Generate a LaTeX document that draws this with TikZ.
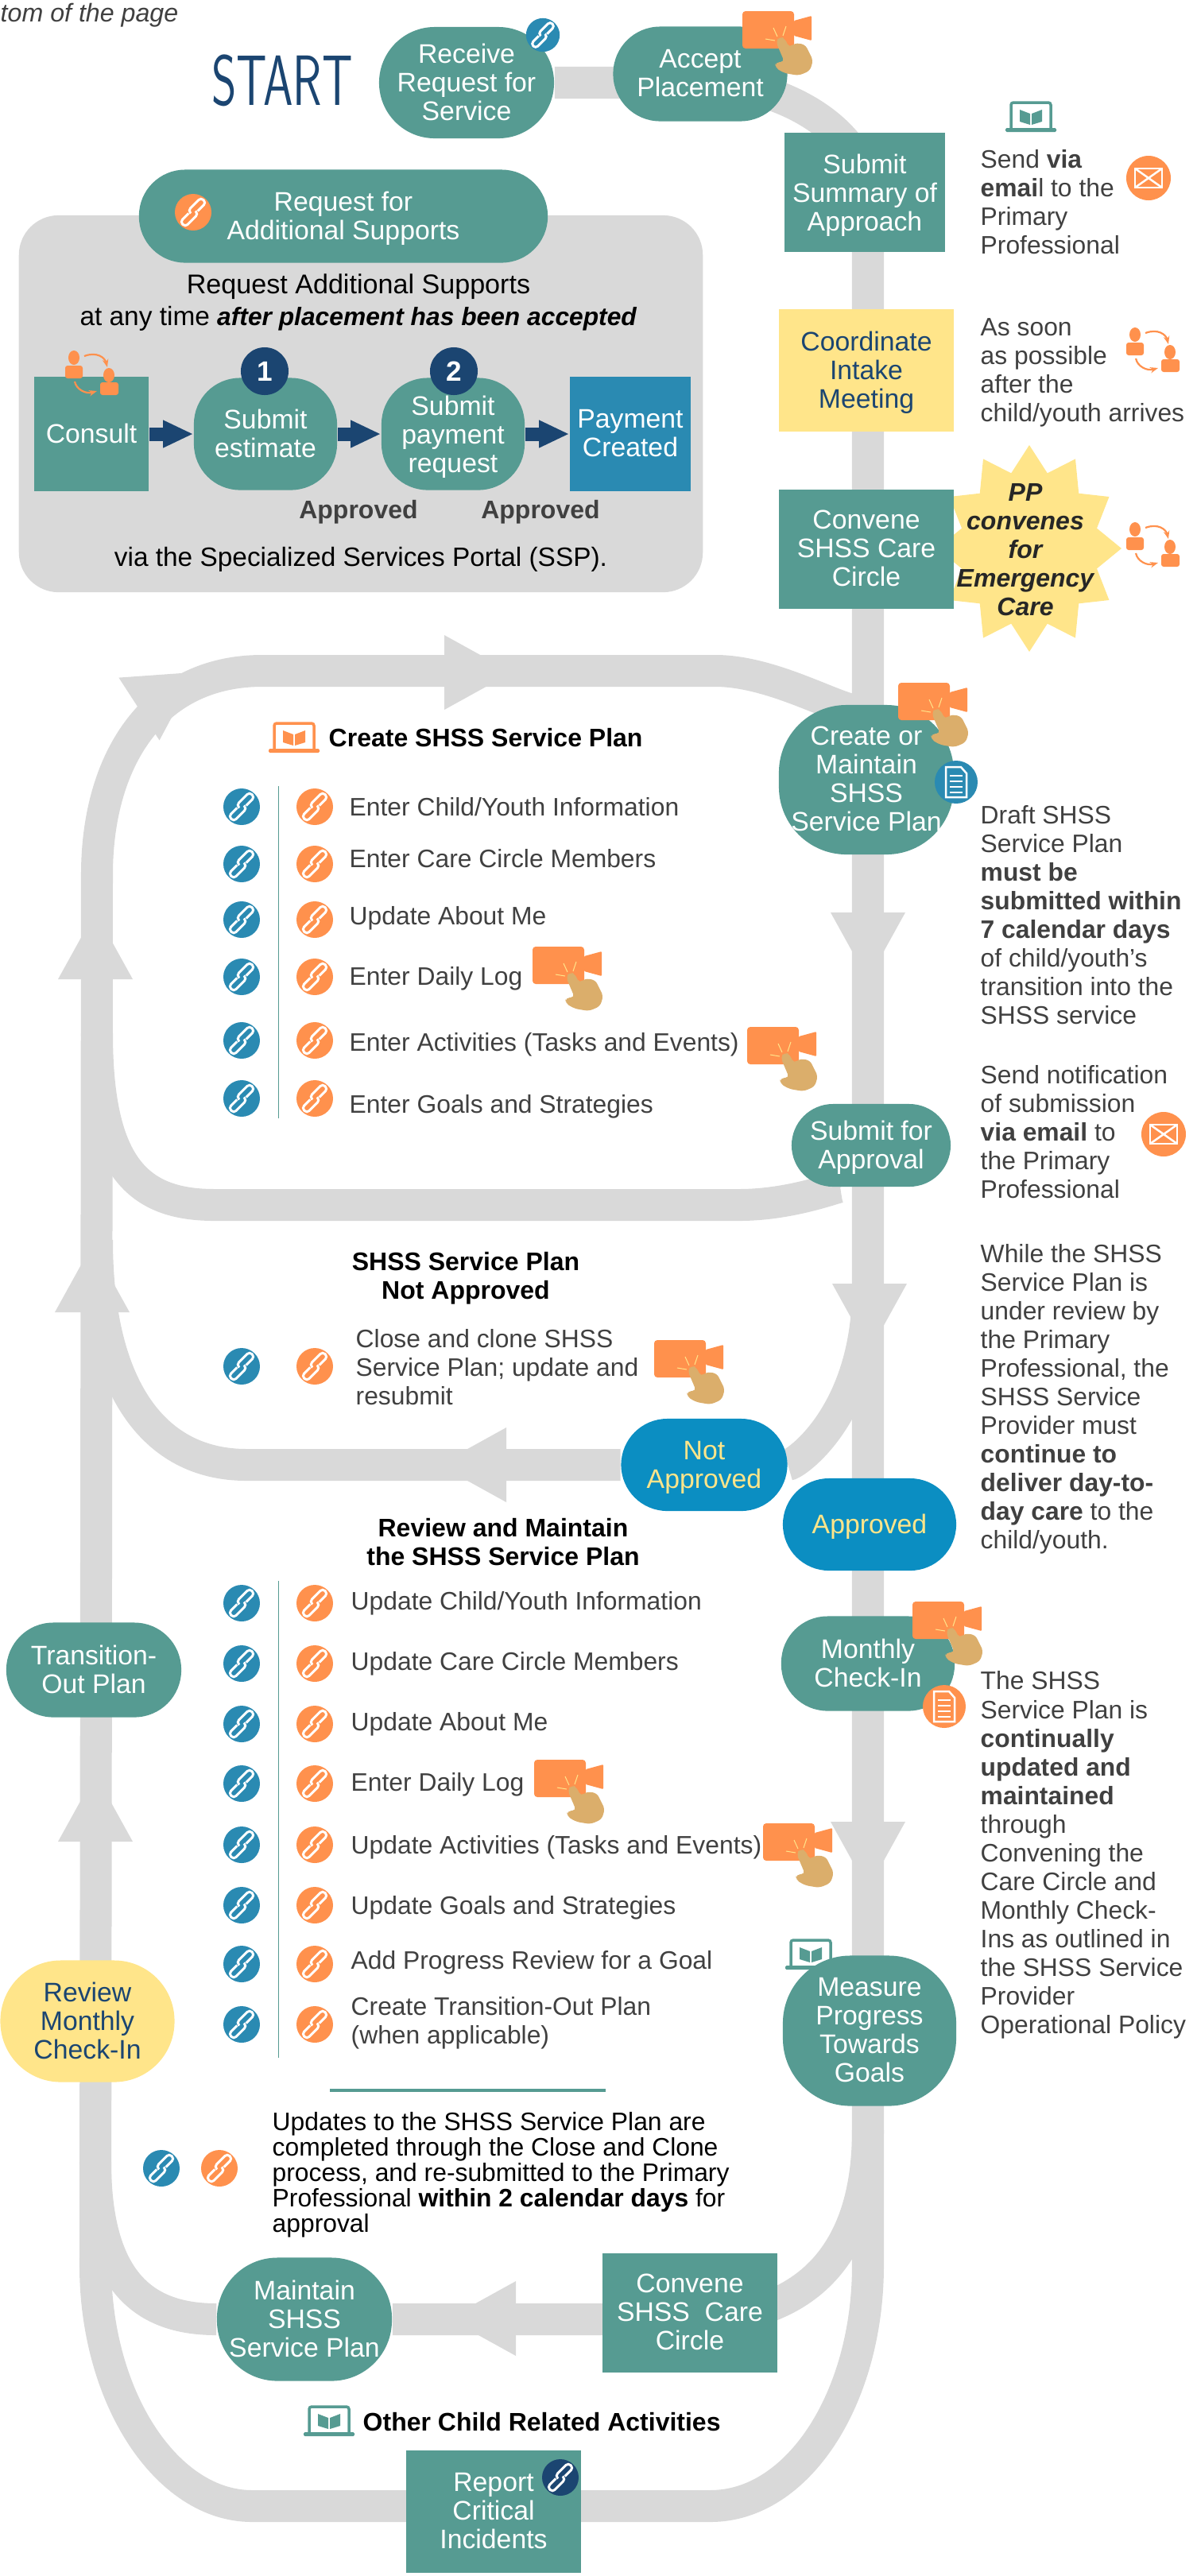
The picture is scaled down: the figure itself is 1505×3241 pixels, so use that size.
\documentclass[tikz,border=0pt]{standalone}
\usepackage{fontspec}
\setmainfont{Liberation Sans}
\usetikzlibrary{arrows.meta,backgrounds}

\definecolor{stagegreen}{HTML}{569B92}
\definecolor{trackgray}{HTML}{D9D9D9}
\definecolor{iconorange}{HTML}{FF914D}
\definecolor{linkblue}{HTML}{2A8AB2}
\definecolor{navyblue}{HTML}{1B4571}
\definecolor{statusblue}{HTML}{0B8EC2}
\definecolor{hintyellow}{HTML}{FFE58A}
\definecolor{handtan}{HTML}{DBAE6B}
\definecolor{bodytext}{HTML}{404040}

\tikzset{
    pics/linkicon/.style={code={
        \fill[#1] (0,0) circle (23);
        \draw[white, line width=0.3mm, rotate=45, rounded corners=0.4mm] (5,3) -- (20,3) -- (20,-6) -- (-3,-6) -- (-3,-1);
        \draw[white, line width=0.3mm, rotate=45, rounded corners=0.4mm] (-5,-3) -- (-20,-3) -- (-20,6) -- (3,6) -- (3,1);
    }},
    pics/mailicon/.style={code={
        \fill[iconorange] (0,0) circle (28);
        \draw[white, line width=0.25mm] (-17,-12) rectangle (17,12);
        \draw[white, line width=0.25mm] (-17,-12) -- (17,12) (17,-12) -- (-17,12);
    }},
    pics/docicon/.style={code={
        \fill[#1] (0,0) circle (27);
        \draw[white, line width=0.25mm] (-13,-19) -- (6,-19) -- (13,-11) -- (13,19) -- (-13,19) -- cycle;
        \foreach \l in {-8,-1,6,13} {
            \draw[white, line width=0.2mm] (-8,\l) -- (8,\l);
        }
    }},
    pics/laptopicon/.style={code={
        \draw[#1, line width=0.35mm, rounded corners=0.3mm] (7,36) -- (7,2) -- (57,2) -- (57,36);
        \fill[#1, rounded corners=0.15mm] (0,34) rectangle (64,39);
        \fill[#1] (18,11) -- (31,16) -- (31,30) -- (18,26) -- cycle;
        \fill[#1] (33,16) -- (46,11) -- (46,26) -- (33,30) -- cycle;
    }},
    pics/peopleicon/.style={code={
        \fill[iconorange] (11,8) ellipse (7 and 9);
        \fill[iconorange, rounded corners=0.3mm] (0,18) rectangle (22,34);
        \fill[iconorange] (55,30) ellipse (7 and 9);
        \fill[iconorange, rounded corners=0.3mm] (44,39) rectangle (67,55);
        \draw[iconorange, line width=0.22mm, -{Stealth[length=1mm]}] (24,6) .. controls (40,0) and (50,8) .. (53,20);
        \draw[iconorange, line width=0.22mm, -{Stealth[length=1mm]}] (12,38) .. controls (14,48) and (26,54) .. (40,50);
    }},
    pics/videoicon/.style={code={
        \fill[iconorange, rounded corners=0.4mm] (0,0) rectangle (65,47);
        \fill[iconorange, rounded corners=0.1mm] (65,12) -- (87,6) -- (87,37) -- (65,31) -- cycle;
        \draw[hintyellow, line width=0.1mm] (39,21) -- (44,32) (55,19) -- (51,31) (29,35) -- (41,37);
        \fill[handtan, rounded corners=0.5mm] (47,32) -- (42,38) -- (53,64) -- (42,64) -- (41,71)
            -- (53,78) -- (71,81) -- (85,75) -- (89,62) -- (79,42) -- (66,40) -- (59,46) -- (53,34) -- cycle;
    }}
}

\begin{document}
\begin{tikzpicture}[
    x=0.01cm, y=-0.01cm,
    box size/.style 2 args={minimum width=#1*0.1mm, minimum height=#2*0.1mm},
    stage/.style={rectangle, fill=stagegreen, text=white, align=center, inner sep=0pt, text depth=0.6pt,
        rounded corners=#1*0.1mm, font=\fontsize{9.6}{10.24}\selectfont},
    stage/.default=0,
    hint stage/.style={stage=#1, fill=hintyellow, text=navyblue},
    hint stage/.default=0,
    status stage/.style={stage=58, fill=statusblue, text=hintyellow},
    note/.style={anchor=west, align=left, inner sep=0pt, text=bodytext, font=\fontsize{9.05}{10.25}\selectfont},
    list item/.style={note, text height=7.7pt, text depth=2pt},
    heading/.style={align=center, inner sep=0pt, text=black, font=\fontsize{9.1}{10.25}\selectfont\bfseries},
    track/.style={draw=trackgray, line width=4mm},
    track head/.style={fill=trackgray},
    step number/.style={circle, fill=navyblue, text=white, inner sep=0pt, minimum size=6mm, font=\fontsize{10}{10}\selectfont\bfseries},
    flow arrow/.style={navyblue, line width=1.7mm, -{Triangle[length=3.8mm,width=3.2mm]}}
]
\useasboundingbox (0,0) rectangle (1505,3241);

% Page remainder and start
\node[note, anchor=west, font=\fontsize{9.15}{10}\selectfont\itshape] (pagenote) at (0,19) {tom of the page};
\node[inner sep=0pt, text=navyblue, xscale=0.67, font=\fontsize{25.5}{26}\selectfont\sffamily] (startlabel) at (355,101) {START};

% Additional supports panel
\node[fill=trackgray, rounded corners=5mm, box size={860}{474}] (panel) at (454,508) {};
\node[stage=58, box size={514}{117}] (request) at (432,272) {Request for\\Additional Supports};
\node[heading, font=\fontsize{9.5}{10.4}\selectfont] (anytime) at (451,381) {\mdseries\fontsize{9.7}{10.4}\selectfont Request Additional Supports\\[1pt]
    \mdseries at any time {\fontsize{9.03}{10.4}\selectfont\textbf{\textit{after placement has been accepted}}}};
\node[stage, box size={144}{144}] (consult) at (115,546) {Consult};
\node[stage=58, box size={180}{141}] (estimate) at (334,546) {Submit\\estimate};
\node[stage=58, text depth=-1.4pt, box size={180}{141}] (payment) at (570,546) {Submit\\payment\\request};
\node[stage, fill=linkblue, box size={152}{144}] (created) at (793,546) {Payment\\Created};
\node[step number] (numberone) at (333,467) {1};
\node[step number] (numbertwo) at (571,467) {2};
\draw[flow arrow] (consult) -- (estimate);
\draw[flow arrow] (estimate) -- (payment);
\draw[flow arrow] (payment) -- (created);
\node[heading, text=bodytext] (approvedone) at (451,644) {Approved};
\node[heading, text=bodytext] (approvedtwo) at (680,644) {Approved};
\node[heading, font=\fontsize{9.5}{10}\selectfont\mdseries] (portal) at (454,704) {via the Specialized Services Portal (SSP).};

% Star behind the convene box
\fill[hintyellow] plot[variable=\k, samples at={0,...,23}]
    ({1295+(116-28*mod(\k,2))*sin(15*\k)}, {690-(130-32*mod(\k,2))*cos(15*\k)}) -- cycle;

% Right column stages
\node[stage=70, box size={220}{140}] (receive) at (587,104) {Receive\\Request for\\Service};
\node[stage=59, box size={219}{119}] (accept) at (881,93) {Accept\\Placement};
\node[stage, text depth=-0.8pt, box size={201}{150}] (summary) at (1088,242) {Submit\\Summary of\\Approach};
\node[hint stage, box size={220}{153}] (intake) at (1090,466) {Coordinate\\Intake\\Meeting};
\node[stage, box size={220}{150}] (convene) at (1090,691) {Convene\\SHSS Care\\Circle};
\node[inner sep=0pt, align=center, text=black!85, font=\fontsize{9.1}{10.24}\selectfont\bfseries\itshape] (emergency) at (1290,692) {PP\\convenes\\for\\Emergency\\Care};
\node[stage=85, box size={220}{188}] (create) at (1090,981) {Create or\\Maintain\\SHSS\\Service Plan};
\node[stage=52, box size={200}{104}] (approval) at (1096,1441) {Submit for\\Approval};
\node[status stage, text depth=-1.4pt, box size={209}{116}] (notapproved) at (886,1843) {Not\\Approved};
\node[status stage, box size={218}{116}] (approved) at (1094,1918) {Approved};
\node[stage=58, box size={218}{119}] (monthly) at (1092,2093) {Monthly\\Check-In};
\node[stage=85, box size={218}{189}] (measure) at (1094,2555) {Measure\\Progress\\Towards\\Goals};

% Left side and bottom stages
\node[stage=59, box size={220}{119}] (transition) at (118,2101) {Transition-\\Out Plan};
\node[hint stage=76, box size={219}{153}] (reviewcheck) at (110,2543) {Review\\Monthly\\Check-In};
\node[stage=76, box size={220}{155}] (maintain) at (383,2918) {Maintain\\SHSS\\Service Plan};
\node[stage, box size={220}{150}] (conveneagain) at (868,2910) {Convene\\SHSS\ \ Care\\Circle};
\node[stage, box size={220}{153}] (report) at (621,3160) {Report\\Critical\\Incidents};

% Tracks behind everything
\coordinate (railtop) at (1092,250);
\coordinate (railbottom) at (1092,2850);
\coordinate (leftbottom) at (120,2850);
\coordinate (lefttop) at (122,1100);
\begin{scope}[on background layer]
    \draw[track] (receive) -- (accept |- receive) .. controls (990,104) and (1092,170) .. (railtop);
    \draw[track] (railtop) -- (railbottom) .. controls (1092,3017) and (1004,3153) .. (894,3153)
        -- (317,3153) .. controls (210,3153) and (120,3017) .. (leftbottom) -- (lefttop);
    \draw[track] (lefttop) .. controls (122,960) and (190,844) .. (330,844) -- (900,844)
        .. controls (990,844) and (1092,920) .. (create);
    \draw[track] (approval) .. controls (1060,1490) and (1000,1516) .. (930,1516) -- (270,1516)
        .. controls (175,1516) and (122,1470) .. (122,1300);
    \draw[track] (notapproved) .. controls (1000,1843) and (1092,1780) .. (1092,1620);
    \draw[track] (notapproved) -- (310,1843) .. controls (190,1843) and (122,1740) .. (122,1560);
    \draw[track] (maintain) -- (conveneagain |- maintain) .. controls (990,2918) and (1092,2860) .. (1092,2680);
    \draw[track] (maintain) .. controls (190,2918) and (120,2880) .. (120,2720);
    % Arrow heads on the tracks
    \foreach \hx/\hy/\ha in {559/846/0, 1092/1148/-90, 1094/1615/-90, 1092/2292/-90,
        120/1232/90, 116/1651/90, 120/2317/90, 637/1843/180, 649/2917/180, 175/892/33} {
        \fill[track head, shift={(\hx,\hy)}, rotate=\ha] (0,-47) -- (85,0) -- (0,47) -- cycle;
    }
\end{scope}

% Create plan list
\pic (createlaptop) at (338,908) {laptopicon=iconorange};
\node[heading, anchor=west] (createhead) at (413,928) {Create SHSS Service Plan};
\draw[stagegreen, line width=0.1mm] (350,989) -- (350,1407);
\foreach \i/\y/\ty/\t in {1/1015/1016/{Enter Child/Youth Information}, 2/1087/1081/Enter Care Circle Members,
    3/1157/1153/Update About Me, 4/1229/1229/Enter Daily Log, 5/1309/1312/Enter Activities (Tasks and Events),
    6/1382/1390/Enter Goals and Strategies} {
    \pic (createblue\i) at (304,\y) {linkicon=linkblue};
    \pic (createorange\i) at (396,\y) {linkicon=iconorange};
    \node[list item] (createitem\i) at (439,\ty) {\t};
}

% Not approved block
\node[heading] (nothead) at (586,1608) {SHSS Service Plan\\Not Approved};
\pic (notblue) at (304,1719) {linkicon=linkblue};
\pic (notorange) at (396,1719) {linkicon=iconorange};
\node[note] (notitem) at (447,1720) {Close and clone SHSS\\Service Plan; update and\\resubmit};

% Review and maintain list
\node[heading] (reviewhead) at (633,1940) {Review and Maintain\\the SHSS Service Plan};
\draw[stagegreen, line width=0.1mm] (350,1989) -- (350,2589);
\foreach \i/\y/\ty/\t in {1/2017/2015/{Update Child/Youth Information}, 2/2093/2091/Update Care Circle Members,
    3/2169/2167/Update About Me, 4/2244/2243/Enter Daily Log, 5/2321/2322/Update Activities (Tasks and Events),
    6/2397/2398/Update Goals and Strategies, 7/2471/2467/Add Progress Review for a Goal} {
    \pic (reviewblue\i) at (304,\y) {linkicon=linkblue};
    \pic (revieworange\i) at (396,\y) {linkicon=iconorange};
    \node[list item] (reviewitem\i) at (441,\ty) {\t};
}
\pic (reviewblue8) at (304,2547) {linkicon=linkblue};
\pic (revieworange8) at (396,2547) {linkicon=iconorange};
\node[note] (reviewitem8) at (441,2545) {Create Transition-Out Plan\\(when applicable)};

% Updates note
\draw[stagegreen, line width=0.4mm] (415,2630) -- (762,2630);
\pic (updateblue) at (203,2728) {linkicon=linkblue};
\pic (updateorange) at (276,2728) {linkicon=iconorange};
\node[note, text=black, font=\fontsize{9.05}{9.1}\selectfont] (updatenote) at (342,2736) {Updates to the SHSS Service Plan are\\completed through the Close and Clone\\process, and re-submitted to the Primary\\Professional \textbf{within 2 calendar days} for\\approval};

% Other activities
\pic (otherlaptop) at (382,3026) {laptopicon=stagegreen};
\node[heading, anchor=west] (otherhead) at (456,3047) {Other Child Related Activities};

% Right hand notes
\pic (summarylaptop) at (1265,127) {laptopicon=stagegreen};
\node[note] (sendnote) at (1233,254) {Send \textbf{via}\\\textbf{emai}l to the\\Primary\\Professional};
\pic (summarymail) at (1445,224) {mailicon};
\node[note] (soonnote) at (1233,469) {As soon\\as possible\\after the\\child/youth arrives};
\pic (intakepeople) at (1417,413) {peopleicon};
\pic (starpeople) at (1417,658) {peopleicon};
\node[note] (draftnote) at (1233,1151) {Draft SHSS\\Service Plan\\\textbf{must be}\\\textbf{submitted within}\\\textbf{7 calendar days}\\of child/youth’s\\transition into the\\SHSS service};
\node[note] (sendtwonote) at (1233,1424) {Send notification\\of submission\\\textbf{via email} to\\the Primary\\Professional};
\pic (approvalmail) at (1464,1427) {mailicon};
\node[note] (whilenote) at (1233,1760) {While the SHSS\\Service Plan is\\under review by\\the Primary\\Professional, the\\SHSS Service\\Provider must\\\textbf{continue to}\\\textbf{deliver day-to-}\\\textbf{day care} to the\\child/youth.};
\node[note] (updatednote) at (1233,2334) {The SHSS\\Service Plan is\\\textbf{continually}\\\textbf{updated and}\\\textbf{maintained}\\through\\Convening the\\Care Circle and\\Monthly Check-\\Ins as outlined in\\the SHSS Service\\Provider\\Operational Policy};

% Icons on the stages
\pic (receivelink) [scale=0.92] at (683,44) {linkicon=linkblue};
\pic (requestlink) at (243,267) {linkicon=iconorange};
\pic (reportlink) at (705,3117) {linkicon=navyblue};
\pic (consultpeople) at (82,442) {peopleicon};
\pic (createdoc) at (1203,984) {docicon=linkblue};
\pic (monthlydoc) at (1188,2147) {docicon=iconorange};
\pic (measurelaptop) at (988,2439) {laptopicon=stagegreen};
\foreach \n/\x/\y in {accept/934/14, create/1130/859, createlog/670/1191, createtasks/940/1292,
    clone/823/1686, monthly/1148/2015, reviewlog/672/2214, reviewtasks/960/2294} {
    \pic (video\n) at (\x,\y) {videoicon};
}

\end{tikzpicture}
\end{document}
